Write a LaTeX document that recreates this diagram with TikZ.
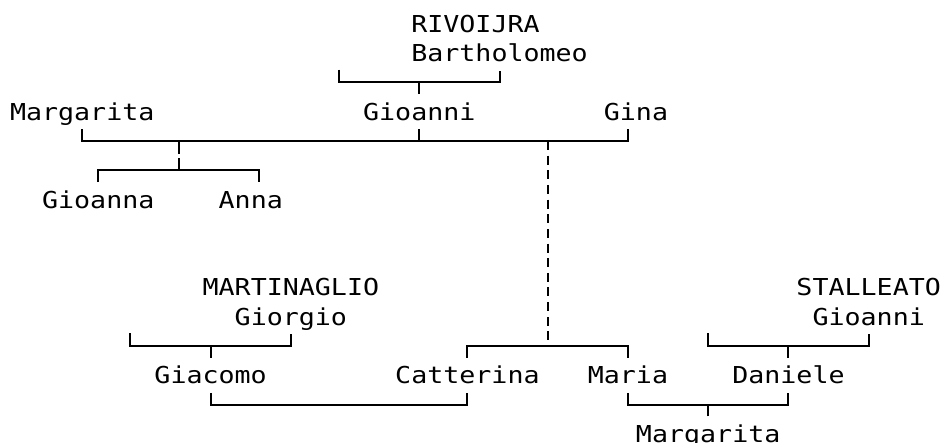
\documentclass[tikz,border=0pt]{standalone}
\usepackage{fontspec}
\newfontfamily\treefont[FakeStretch=1.144]{DejaVu Sans Mono}
\begin{document}
\begin{tikzpicture}[x=16.05pt,y=-29.3pt,line width=2pt,
		person/.style={inner sep=0pt,text height=25pt,text depth=8pt,
			font=\treefont\fontsize{23.3pt}{28pt}\selectfont},
		guess/.style={dash pattern=on 9pt off 5.65pt}]
	\useasboundingbox (-1.123,-0.812) rectangle (57.755,14.307);
	% names, at (column, row)
	\node[person] (rivo) at (28.5,0) {RIVOIJRA};
	\node[person] (bart) at (30,1) {Bartholomeo};
	\node[person] (margA) at (4,3) {Margarita};
	\node[person] (gioa) at (25,3) {Gioanni};
	\node[person] (gina) at (38.5,3) {Gina};
	\node[person] (gioanna) at (5,6) {Gioanna};
	\node[person] (anna) at (14.5,6) {Anna};
	\node[person] (mart) at (17,9) {MARTINAGLIO};
	\node[person] (gior) at (17,10) {Giorgio};
	\node[person] (stal) at (53,9) {STALLEATO};
	\node[person] (gioaS) at (53,10) {Gioanni};
	\node[person] (giac) at (12,12) {Giacomo};
	\node[person] (catt) at (28,12) {Catterina};
	\node[person] (maria) at (38,12) {Maria};
	\node[person] (dani) at (48,12) {Daniele};
	\node[person] (margB) at (43,14) {Margarita};
	% unnamed spouses, forks and off-centre ticks
	\coordinate (bsp) at (20,1.563);
	\coordinate (gsp) at (7,10.563);
	\coordinate (ssp) at (43,10.563);
	\coordinate (kids) at (10,4);
	\coordinate (kidsB) at (10,5);
	\coordinate (fork) at (33,4);
	\coordinate (forkB) at (33,11);
	\coordinate (ginaT) at (gina.south -| 38,0);
	\coordinate (annaT) at (anna.north -| 15,0);
	% RIVOIJRA
	\draw (bsp) -- (bsp |- 0,2) -- (bart.south |- 0,2) -- (bart.south);
	\draw (gioa.north) -- (gioa.north |- 0,2);
	\draw (margA.south) -- (margA.south |- 0,4) -- (ginaT |- 0,4) -- (ginaT);
	\draw (gioa.south) -- (gioa.south |- 0,4);
	\draw (kids) -- ++(0,0.43);
	\draw (kidsB) -- ++(0,-0.43);
	\draw (gioanna.north) -- (gioanna.north |- 0,5) -- (annaT |- 0,5) -- (annaT);
	\draw[guess] (fork) -- (forkB);
	% MARTINAGLIO
	\draw (gsp) -- (gsp |- 0,11) -- (gior.south |- 0,11) -- (gior.south);
	\draw (giac.north) -- (giac.north |- 0,11);
	\draw (catt.north) -- (catt.north |- 0,11) -- (maria.north |- 0,11) -- (maria.north);
	\draw (giac.south) -- (giac.south |- 0,13) -- (catt.south |- 0,13) -- (catt.south);
	% STALLEATO
	\draw (ssp) -- (ssp |- 0,11) -- (gioaS.south |- 0,11) -- (gioaS.south);
	\draw (dani.north) -- (dani.north |- 0,11);
	\draw (maria.south) -- (maria.south |- 0,13) -- (dani.south |- 0,13) -- (dani.south);
	\draw (margB.north) -- (margB.north |- 0,13);
\end{tikzpicture}
\end{document}
